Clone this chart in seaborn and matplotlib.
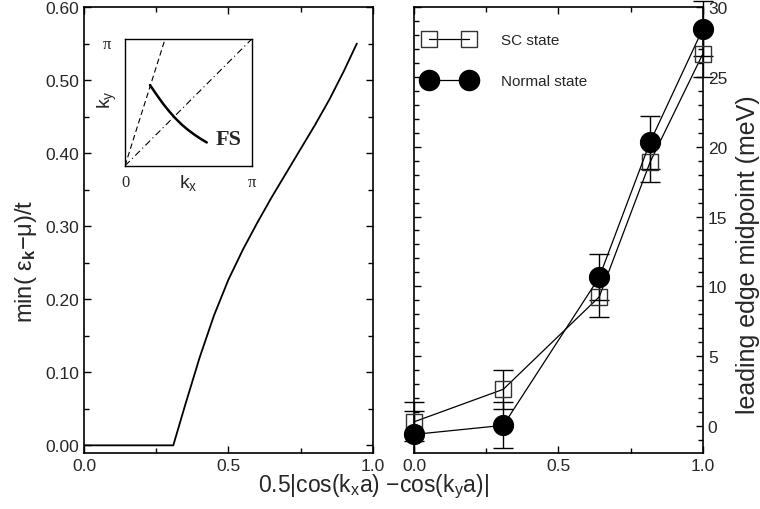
import numpy as np
import pandas as pd
import matplotlib
matplotlib.use("Agg")
import matplotlib.pyplot as plt
from matplotlib.ticker import MultipleLocator, FormatStrFormatter
from matplotlib.lines import Line2D
from matplotlib.patches import Rectangle
import seaborn as sns

# ---- data ----
# left panel: min(eps_k - mu)/t vs 0.5|cos kx - cos ky|
curve_x = [0.0, 0.309, 0.35, 0.40, 0.45, 0.50, 0.55, 0.60, 0.65, 0.70,
           0.75, 0.80, 0.85, 0.90, 0.944]
curve_y = [0.0, 0.0, 0.055, 0.120, 0.178, 0.227, 0.268, 0.305, 0.340, 0.373,
           0.406, 0.439, 0.474, 0.513, 0.550]

# right panel: leading edge midpoint (meV)
pos_x = [0.0, 0.309, 0.641, 0.817, 1.0]
sc_vals = [0.3, 2.63, 9.25, 18.9, 26.67]
sc_err = [1.4, 1.4, 1.43, 1.44, 1.67]
normal_vals = [-0.6, 0.05, 10.65, 20.33, 28.46]
normal_err = [1.67, 1.65, 1.65, 1.9, 2.0]
series_names = ["SC state", "Normal state"]

# inset: Fermi surface sketch (units of pi)
fs_kx = [0.197, 0.25, 0.30, 0.35, 0.40, 0.45, 0.50, 0.55, 0.60, 0.645]
fs_ky = [0.637, 0.56, 0.49, 0.428, 0.372, 0.323, 0.281, 0.244, 0.211, 0.184]
dash_top_kx = 0.316

# ---- style ----
sns.set_theme(style="ticks")
plt.rcParams["font.family"] = ["Liberation Sans", "DejaVu Sans"]
plt.rcParams["mathtext.fontset"] = "custom"
plt.rcParams["mathtext.rm"] = "Liberation Sans"
plt.rcParams["mathtext.it"] = "Liberation Sans"
plt.rcParams["mathtext.bf"] = "Liberation Sans:bold"
plt.rcParams["axes.linewidth"] = 1.2

fig = plt.figure(figsize=(7.6, 5.1), dpi=100)
axL = fig.add_axes([0.1105, 0.1098, 0.3803, 0.8745])
axR = fig.add_axes([0.5447, 0.1098, 0.3803, 0.8745])

def style_ticks(ax):
    ax.tick_params(which="both", direction="in", top=True, right=True,
                   bottom=True, left=True, labelsize=12.5, color="black",
                   width=1.0)
    ax.tick_params(which="major", length=5)
    ax.tick_params(which="minor", length=3.5)
    for s in ax.spines.values():
        s.set_color("black")
        s.set_linewidth(1.2)

# left panel
dfL = pd.DataFrame({"x": curve_x, "y": curve_y})
sns.lineplot(data=dfL, x="x", y="y", ax=axL, color="black", lw=1.3,
             sort=False, estimator=None)
axL.set_xlim(0, 1)
axL.set_ylim(-0.0105, 0.60)
axL.xaxis.set_major_locator(MultipleLocator(0.5))
axL.xaxis.set_minor_locator(MultipleLocator(0.25))
axL.yaxis.set_major_locator(MultipleLocator(0.1))
axL.yaxis.set_minor_locator(MultipleLocator(0.05))
axL.xaxis.set_major_formatter(FormatStrFormatter("%.1f"))
axL.yaxis.set_major_formatter(FormatStrFormatter("%.2f"))
axL.set_xlabel("")
axL.set_ylabel(r"min( ε$_{\mathbf{k}}$$-$μ)/t", fontsize=17)
axL.yaxis.set_label_coords(-0.155, 0.433)
style_ticks(axL)

# right panel
dfR = pd.DataFrame({
    "x": pos_x * 2,
    "val": sc_vals + normal_vals,
    "state": [series_names[0]] * len(pos_x) + [series_names[1]] * len(pos_x),
})
sns.lineplot(data=dfR[dfR.state == series_names[0]], x="x", y="val", ax=axR,
             color="black", lw=0.9, marker="s", markersize=12,
             markerfacecolor="none", markeredgecolor="#333333",
             markeredgewidth=1.0, estimator=None, zorder=3, clip_on=False)
sns.lineplot(data=dfR[dfR.state == series_names[1]], x="x", y="val", ax=axR,
             color="black", lw=0.9, marker="o", markersize=14.5,
             markerfacecolor="black", markeredgecolor="black",
             estimator=None, zorder=4, clip_on=False)
clip_rect = Rectangle((-0.1, 0.0), 1.2, 1.1, transform=axR.transAxes,
                      facecolor="none", edgecolor="none")
axR.add_patch(clip_rect)
for vals, errs in ((sc_vals, sc_err), (normal_vals, normal_err)):
    cont = axR.errorbar(pos_x, vals, yerr=errs, fmt="none", ecolor="black",
                        elinewidth=1.0, capsize=7, capthick=1.0, zorder=2)
    for art in cont.get_children():
        art.set_clip_path(clip_rect)
axR.set_xlim(0, 1)
axR.set_ylim(-1.93, 30)
axR.xaxis.set_major_locator(MultipleLocator(0.5))
axR.xaxis.set_minor_locator(MultipleLocator(0.25))
axR.yaxis.set_major_locator(MultipleLocator(5))
axR.yaxis.set_minor_locator(MultipleLocator(1))
axR.xaxis.set_major_formatter(FormatStrFormatter("%.1f"))
axR.set_xlabel("")
axR.yaxis.tick_right()
axR.yaxis.set_label_position("right")
axR.set_ylabel("leading edge midpoint (meV)", fontsize=18)
axR.yaxis.set_label_coords(1.115, 0.448)
style_ticks(axR)
axR.tick_params(labelleft=False, labelright=True)

handles = [
    Line2D([], [], color="black", lw=0.9, marker="s", markersize=12,
           markerfacecolor="none", markeredgecolor="#333333"),
    Line2D([], [], color="black", lw=0.9, marker="o", markersize=14.5,
           markerfacecolor="black"),
]
axR.legend(handles, series_names, loc="upper left", bbox_to_anchor=(0.0, 0.965),
           numpoints=2, handlelength=3.2, frameon=False, fontsize=11,
           labelspacing=1.75, handletextpad=1.8, borderaxespad=0.3)

# common x label
fig.text(0.491, 0.045, r"0.5|cos(k$_{\mathrm{x}}$a) $-$cos(k$_{\mathrm{y}}$a)|",
         ha="center", va="center", fontsize=16.5)

# inset
axI = fig.add_axes([0.1645, 0.673, 0.1667, 0.2484])
pi = np.pi
sns.lineplot(x=[0, pi], y=[0, pi], ax=axI, color="black", lw=0.8,
             linestyle=(0, (6, 3, 1, 3)), estimator=None)
sns.lineplot(x=[0, dash_top_kx * pi], y=[0, pi], ax=axI, color="black", lw=0.8,
             linestyle=(0, (5, 3)), estimator=None, sort=False)
sns.lineplot(x=np.array(fs_kx) * pi, y=np.array(fs_ky) * pi, ax=axI,
             color="black", lw=1.8, estimator=None, sort=False)
axI.set_xlim(0, pi)
axI.set_ylim(0, pi)
axI.set_xticks([])
axI.set_yticks([])
axI.set_xlabel("")
axI.set_ylabel("")
for s in axI.spines.values():
    s.set_color("black")
    s.set_linewidth(1.0)
serif = ["Liberation Serif", "DejaVu Serif"]
axI.text(0.82, 0.21, "FS", transform=axI.transAxes, fontsize=16,
         fontweight="bold", family=serif, ha="center", va="center")
axI.text(-0.14, 0.96, "π", transform=axI.transAxes, fontsize=12, family=serif,
         ha="center", va="center")
axI.text(0.0, -0.13, "0", transform=axI.transAxes, fontsize=12, family=serif,
         ha="center", va="center")
axI.text(1.0, -0.13, "π", transform=axI.transAxes, fontsize=12, family=serif,
         ha="center", va="center")
axI.text(0.5, -0.13, r"k$_{\mathrm{x}}$", transform=axI.transAxes, fontsize=14,
         ha="center", va="center")
axI.text(-0.14, 0.53, r"k$_{\mathrm{y}}$", transform=axI.transAxes, fontsize=14,
         ha="center", va="center", rotation=90)

fig.savefig("out.png", dpi=100)
